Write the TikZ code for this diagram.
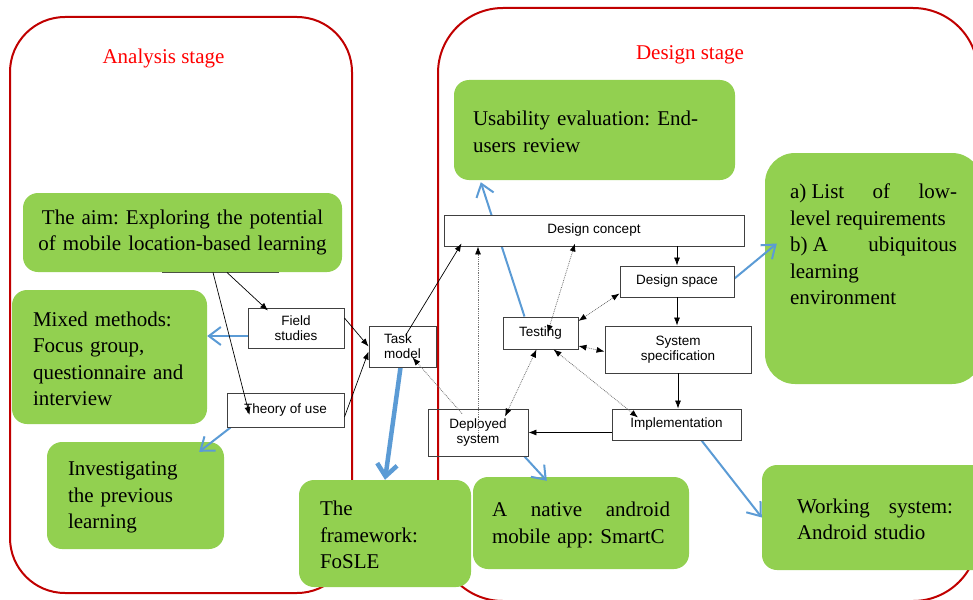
\documentclass[tikz,border=0pt]{standalone}
\usepackage{fontspec}
\setmainfont{Liberation Serif}
\setsansfont{Liberation Sans}
\usetikzlibrary{arrows.meta,calc}
\definecolor{frame}{HTML}{C00000}
\definecolor{leaf}{HTML}{92D050}
\definecolor{sky}{HTML}{5B9BD5}
\pgfdeclarelayer{frames}
\pgfdeclarelayer{notes}
\pgfdeclarelayer{links}
\pgfsetlayers{frames,notes,links,main}
\tikzstyle{stage}=[draw=frame,line width=2pt,rounded corners=55pt]
\tikzstyle{stagelabel}=[text=red,font=\fontsize{21}{25}\selectfont]
\tikzstyle{note}=[fill=leaf,rounded corners=15pt,inner sep=0pt,align=left,font=\fontsize{21}{26.5}\selectfont\frenchspacing]
\tikzstyle{box}=[rectangle,draw=black!75,fill=white,line width=0.9pt,inner sep=0pt,align=center,font=\sffamily\fontsize{13.5}{15}\selectfont]
\tikzstyle{flow}=[draw,line width=0.7pt,-{Latex[length=8pt,width=6pt]}]
\tikzstyle{dotflow}=[draw=black!55,densely dotted,line width=0.8pt,-{Latex[length=8pt,width=6pt,color=black]}]
\tikzstyle{dotboth}=[draw=black!55,densely dotted,line width=0.8pt,{Latex[length=8pt,width=6pt,color=black]}-{Latex[length=8pt,width=6pt,color=black]}]
\tikzstyle{link}=[draw=sky,line width=2pt,-{Straight Barb[length=12pt,width=18pt]}]

\begin{document}
\begin{tikzpicture}[x=1pt,y=-1pt]
    \useasboundingbox (0,0) rectangle (973,599);

    % The two stages
    \begin{pgfonlayer}{frames}
    \draw[stage] (10,17) rectangle (352,593);
    \draw[stage,rounded corners=65pt] (438,8) rectangle (978,601);
    \node[stagelabel] (analysis) at (163.5,58) {Analysis stage};
    \node[stagelabel] (design) at (690,55) {Design stage};
    \node[box,minimum width=116pt,minimum height=32pt] (goal) at (220,256) {};
    \end{pgfonlayer}

    % First we draw the process boxes
    \foreach \pos/\name/\w/\h/\label in {{(594,230.5)/concept/300/31/Design concept},
    {(677,281.5)/space/114/31/Design space}, {(540.5,333)/testing/75/32/Testing},
    {(678,349.5)/spec/146/47/System\\specification}, {(676.5,424.5)/impl/129/31/Implementation},
    {(296,328)/field/96/40/Field\\studies}, {(285.5,410)/theory/117/34/Theory of use}}
        \node[box,minimum width=\w pt,minimum height=\h pt] (\name) at \pos {\label};
    \node[box,align=left,minimum width=67pt,minimum height=41pt] (task) at (402.5,346.5) {Task\\model};
    \node[box,fill=none,minimum width=100pt,minimum height=47pt] (deployed) at (478,432.5) {Deployed\\system};

    % Then the outcomes
    \begin{pgfonlayer}{notes}
    \foreach \pos/\name/\w/\h/\tw/\label in {{(594.5,130)/usab/281/100/243/Usability evaluation: End-\\users review},
    {(109.5,357)/mixed/195/134/153/Mixed methods:\\Focus group,\\questionnaire and\\interview},
    {(135.5,495.5)/invest/177/107/135/Investigating\\the previous\\learning},
    {(385,533.5)/fosle/172/107/130/The\\framework:\\FoSLE},
    {(581,523)/native/216/92/178/A \hfill native \hfill android\\mobile app: SmartC},
    {(875,517.5)/working/226/105/156/Working \hfill system:\\Android studio}}
        \node[note,minimum width=\w pt,minimum height=\h pt,text width=\tw pt] (\name) at \pos {\rule{0pt}{18pt}\label};
    \node[note,align=center,minimum width=319pt,minimum height=79pt,text width=300pt] (aim) at (182.5,232.5)
        {The aim: Exploring the potential\\of mobile location-based learning};
    \node[note,rounded corners=30pt,minimum width=217pt,minimum height=231pt] (list) at (873.5,268.5)
        {\parbox[c][169pt][t]{167pt}{a) List \hfill of \hfill low-\\level requirements\\b) A \hfill ubiquitous\\learning\\environment}};
    \end{pgfonlayer}

    % Connect the boxes
    \draw[flow] ([xshift=7]goal.south) -- ([xshift=-28,yshift=-3]field.north);
    \draw[flow] ([xshift=-7]goal.south) -- ([xshift=-36,yshift=-5]theory.center);
    \draw[flow] ([yshift=10]field.east) -- (task.west);
    \draw[flow] ([yshift=-7]theory.east) -- ([yshift=-5]task.west);
    \draw[flow] ([xshift=3,yshift=11]task.center) -- ([xshift=18,yshift=3]concept.south west);
    \draw[flow] (space.north |- concept.south) -- (space.north);
    \draw[flow] (space.south) -- (space.south |- spec.north);
    \draw[flow] (spec.south) -- (spec.south |- impl.north);
    \draw[flow] (impl.west |- deployed.east) -- (deployed.east);
    \draw[dotflow] ([xshift=-16,yshift=-5]deployed.north) -- ([xshift=10,yshift=-11]task.center);
    \draw[dotflow] (deployed.center) -- (deployed.center |- concept.south);
    \draw[dotboth] ([xshift=7]testing.center) -- ([xshift=-19,yshift=3]concept.south);
    \draw[dotboth] ([yshift=12]testing.east) -- ([yshift=4]space.south west);
    \draw[dotboth] ([yshift=-13]testing.east) -- ([yshift=-2]spec.west);
    \draw[dotboth] ([xshift=-4]testing.south) -- ([xshift=27,yshift=-8]deployed.north);
    \draw[dotboth] ([xshift=13]testing.south) -- ([xshift=-38.5,yshift=-9]impl.north);

    % Blue arrows to the outcomes
    \begin{pgfonlayer}{links}
    \draw[link] ([xshift=-16]testing.north) -- ([xshift=27,yshift=-2]usab.south west);
    \draw[link] ($(field.west)+(0,8)$) -- ($(mixed.east |- field.west)+(0,8)$);
    \draw[link] ([xshift=4]theory.south west) -- ([xshift=-25,yshift=-10]invest.north east);
    \draw[link,line width=4.5pt,-{Straight Barb[length=12pt,width=20pt]}] ([xshift=-2]task.south) -- (fosle.north);
    \draw[link] ([xshift=-4]deployed.south east) -- ([xshift=74,yshift=-4]native.north west);
    \draw[link] ([xshift=25]impl.south) -- (working.west);
    \draw[link] ([yshift=3]space.east) -- ([xshift=12,yshift=25]list.west);
    \end{pgfonlayer}
\end{tikzpicture}
\end{document}
